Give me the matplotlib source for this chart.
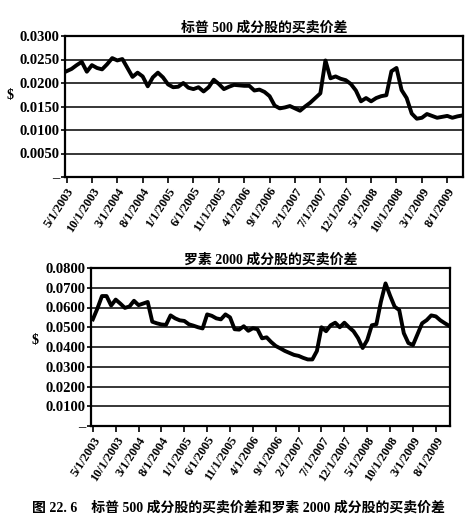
import numpy as np
import matplotlib
matplotlib.use("Agg")
import matplotlib.pyplot as plt
from matplotlib.ticker import FuncFormatter, MultipleLocator

plt.rcParams['font.family'] = ['Liberation Serif', 'Noto Sans CJK SC', 'DejaVu Sans']
plt.rcParams['font.weight'] = 'bold'

# monthly, 5/2003 .. 11/2009
months = [f"{(4 + k) % 12 + 1}/1/{2003 + (4 + k) // 12}" for k in range(79)]

sp500 = [0.0225, 0.0230, 0.0238, 0.0245, 0.0224, 0.0238, 0.0232, 0.0229, 0.0240, 0.0253,
         0.0248, 0.0251, 0.0232, 0.0213, 0.0222, 0.0214, 0.0193, 0.0212, 0.0222, 0.0212,
         0.0197, 0.0191, 0.0192, 0.0200, 0.0190, 0.0187, 0.0191, 0.0182, 0.0191, 0.0207,
         0.0198, 0.0187, 0.0192, 0.0196, 0.0195, 0.0194, 0.0194, 0.0184, 0.0186, 0.0181,
         0.0172, 0.0152, 0.0146, 0.0148, 0.0151, 0.0146, 0.0141, 0.0150, 0.0158, 0.0168,
         0.0178, 0.0248, 0.0210, 0.0214, 0.0209, 0.0206, 0.0198, 0.0184, 0.0161, 0.0168,
         0.0161, 0.0168, 0.0172, 0.0174, 0.0225, 0.0232, 0.0185, 0.0168, 0.0135, 0.0124,
         0.0126, 0.0134, 0.0130, 0.0126, 0.0128, 0.0130, 0.0126, 0.0129, 0.0131]

russell = [0.0540, 0.0595, 0.0658, 0.0658, 0.0610, 0.0640, 0.0620, 0.0598, 0.0605, 0.0634,
           0.0612, 0.0620, 0.0628, 0.0528, 0.0520, 0.0514, 0.0512, 0.0560, 0.0545, 0.0535,
           0.0532, 0.0515, 0.0508, 0.0500, 0.0494, 0.0565, 0.0558, 0.0545, 0.0540, 0.0565,
           0.0550, 0.0490, 0.0488, 0.0505, 0.0482, 0.0495, 0.0490, 0.0444, 0.0449, 0.0425,
           0.0405, 0.0393, 0.0380, 0.0370, 0.0360, 0.0355, 0.0345, 0.0337, 0.0337, 0.0380,
           0.0500, 0.0480, 0.0510, 0.0523, 0.0500, 0.0523, 0.0500, 0.0480, 0.0445, 0.0395,
           0.0435, 0.0510, 0.0515, 0.0630, 0.0722, 0.0660, 0.0604, 0.0587, 0.0470, 0.0420,
           0.0410, 0.0465, 0.0520, 0.0536, 0.0560, 0.0555, 0.0535, 0.0520, 0.0506]

titles = ["标普 500 成分股的买卖价差", "罗素 2000 成分股的买卖价差"]
caption = "图 22. 6    标普 500 成分股的买卖价差和罗素 2000 成分股的买卖价差"

W, H = 477, 526
fig = plt.figure(figsize=(W / 100, H / 100), dpi=100)


def px_axes(l, r, t, b):
    return fig.add_axes([l / W, 1 - b / H, (r - l) / W, (b - t) / H])


def ytick_fmt(v, pos):
    return "–" if abs(v) < 1e-9 else f"{v:.4f}"


def draw(ax, values, title, ymax, step, xlim, ylab_xy):
    x = np.arange(len(values))
    ax.plot(x, values, color="black", lw=2.8, solid_joinstyle="round")
    ax.set_ylim(0, ymax)
    ax.set_xlim(*xlim)
    ax.yaxis.set_major_locator(MultipleLocator(step))
    ax.yaxis.set_major_formatter(FuncFormatter(ytick_fmt))
    ax.yaxis.grid(True, color="black", lw=1.1)
    ax.set_axisbelow(True)
    ticks = x[::5]
    ax.set_xticks(ticks)
    ax.set_xticklabels([months[i] for i in ticks], rotation=57, ha="right",
                       rotation_mode="anchor", fontsize=9, fontweight="bold")
    ax.tick_params(axis="y", labelsize=10.5, length=3, width=1.2, pad=1)
    ax.tick_params(axis="x", length=4, width=1.2, pad=2)
    for s in ax.spines.values():
        s.set_linewidth(1.6)
    ax.set_title(title, fontsize=10, fontweight="bold", pad=3)
    ax.set_ylabel("$", fontsize=10, fontweight="bold", rotation=0, va="center")
    ax.yaxis.set_label_coords(*ylab_xy)


ax1 = px_axes(65, 463, 36, 177)
draw(ax1, sp500, titles[0], 0.03, 0.005, (-0.3, 78.1), (-0.138, 0.58))

ax2 = px_axes(91, 450, 268, 426)
draw(ax2, russell, titles[1], 0.08, 0.01, (-0.4, 78.1), (-0.156, 0.54))

fig.text(0.5, 1 - 508 / H, caption, ha="center", va="center", fontsize=10, fontweight="bold")

fig.savefig("out.png", dpi=100)
